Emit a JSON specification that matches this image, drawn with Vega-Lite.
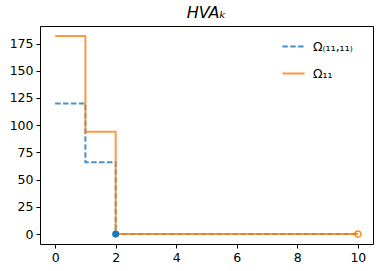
{
  "$schema": "https://vega.github.io/schema/vega-lite/v6.json",
  "width": 333,
  "height": 218,
  "autosize": {"type": "none"},
  "padding": {"left": 40, "top": 26, "right": 8, "bottom": 27},
  "background": "white",
  "config": {
    "font": "DejaVu Sans",
    "view": {"stroke": "black", "strokeWidth": 1},
    "axis": {
      "grid": false,
      "domain": false,
      "ticks": true,
      "tickColor": "black",
      "tickSize": 4,
      "tickWidth": 1,
      "labelFont": "DejaVu Sans",
      "labelFontSize": 12.5,
      "labelColor": "black",
      "labelPadding": 3,
      "labelOverlap": false,
      "labelBound": false,
      "title": null
    }
  },
  "title": {
    "text": "HVAₖ",
    "font": "DejaVu Sans",
    "fontSize": 16,
    "fontStyle": "italic",
    "fontWeight": "normal",
    "color": "black",
    "anchor": "middle",
    "offset": 5
  },
  "datasets": {
    "lines": [
      {"series": "Ω₍₁₁,₁₁₎", "x": 0, "y": 120},
      {"series": "Ω₍₁₁,₁₁₎", "x": 1, "y": 66},
      {"series": "Ω₍₁₁,₁₁₎", "x": 2, "y": 0},
      {"series": "Ω₍₁₁,₁₁₎", "x": 10, "y": 0},
      {"series": "Ω₁₁", "x": 0, "y": 182},
      {"series": "Ω₁₁", "x": 1, "y": 94},
      {"series": "Ω₁₁", "x": 2, "y": 0},
      {"series": "Ω₁₁", "x": 10, "y": 0}
    ],
    "pts": [
      {"series": "Ω₍₁₁,₁₁₎", "x": 2, "y": 0},
      {"series": "Ω₁₁", "x": 10, "y": 0}
    ]
  },
  "encoding": {
    "x": {"field": "x", "type": "quantitative", "scale": {"domain": [-0.5, 10.5], "nice": false, "zero": false}, "axis": {"values": [0, 2, 4, 6, 8, 10]}},
    "y": {"field": "y", "type": "quantitative", "scale": {"domain": [-9.1, 191.1], "nice": false, "zero": false}, "axis": {"values": [0, 25, 50, 75, 100, 125, 150, 175]}}
  },
  "layer": [
    {
      "data": {"name": "lines"},
      "mark": {"type": "line", "interpolate": "step-after", "strokeWidth": 2, "opacity": 0.8},
      "encoding": {
        "color": {
          "field": "series", "type": "nominal",
          "scale": {"domain": ["Ω₍₁₁,₁₁₎", "Ω₁₁"], "range": ["#1f77b4", "#ff7f0e"]},
          "legend": {
            "orient": "none",
            "legendX": 241,
            "legendY": 8,
            "title": null,
            "symbolType": "stroke",
            "symbolSize": 500,
            "symbolStrokeWidth": 2,
            "symbolOpacity": 0.8,
            "labelFont": "DejaVu Sans",
            "labelFontSize": 12.5,
            "labelColor": "black",
            "rowPadding": 8,
            "labelOffset": 7
          }
        },
        "strokeDash": {
          "field": "series", "type": "nominal",
          "scale": {"domain": ["Ω₍₁₁,₁₁₎", "Ω₁₁"], "range": [[5.5, 2.4], [1, 0]]},
          "legend": null
        },
        "order": {"field": "x", "type": "quantitative"}
      }
    },
    {
      "data": {"name": "pts"},
      "transform": [{"filter": "datum.series === 'Ω₍₁₁,₁₁₎'"}],
      "mark": {"type": "point", "shape": "circle", "filled": true, "size": 50, "color": "#1f77b4", "opacity": 1}
    },
    {
      "data": {"name": "pts"},
      "transform": [{"filter": "datum.series === 'Ω₁₁'"}],
      "mark": {"type": "point", "shape": "circle", "filled": false, "size": 40, "strokeWidth": 1.5, "color": "#ff7f0e", "opacity": 0.9}
    }
  ]
}
